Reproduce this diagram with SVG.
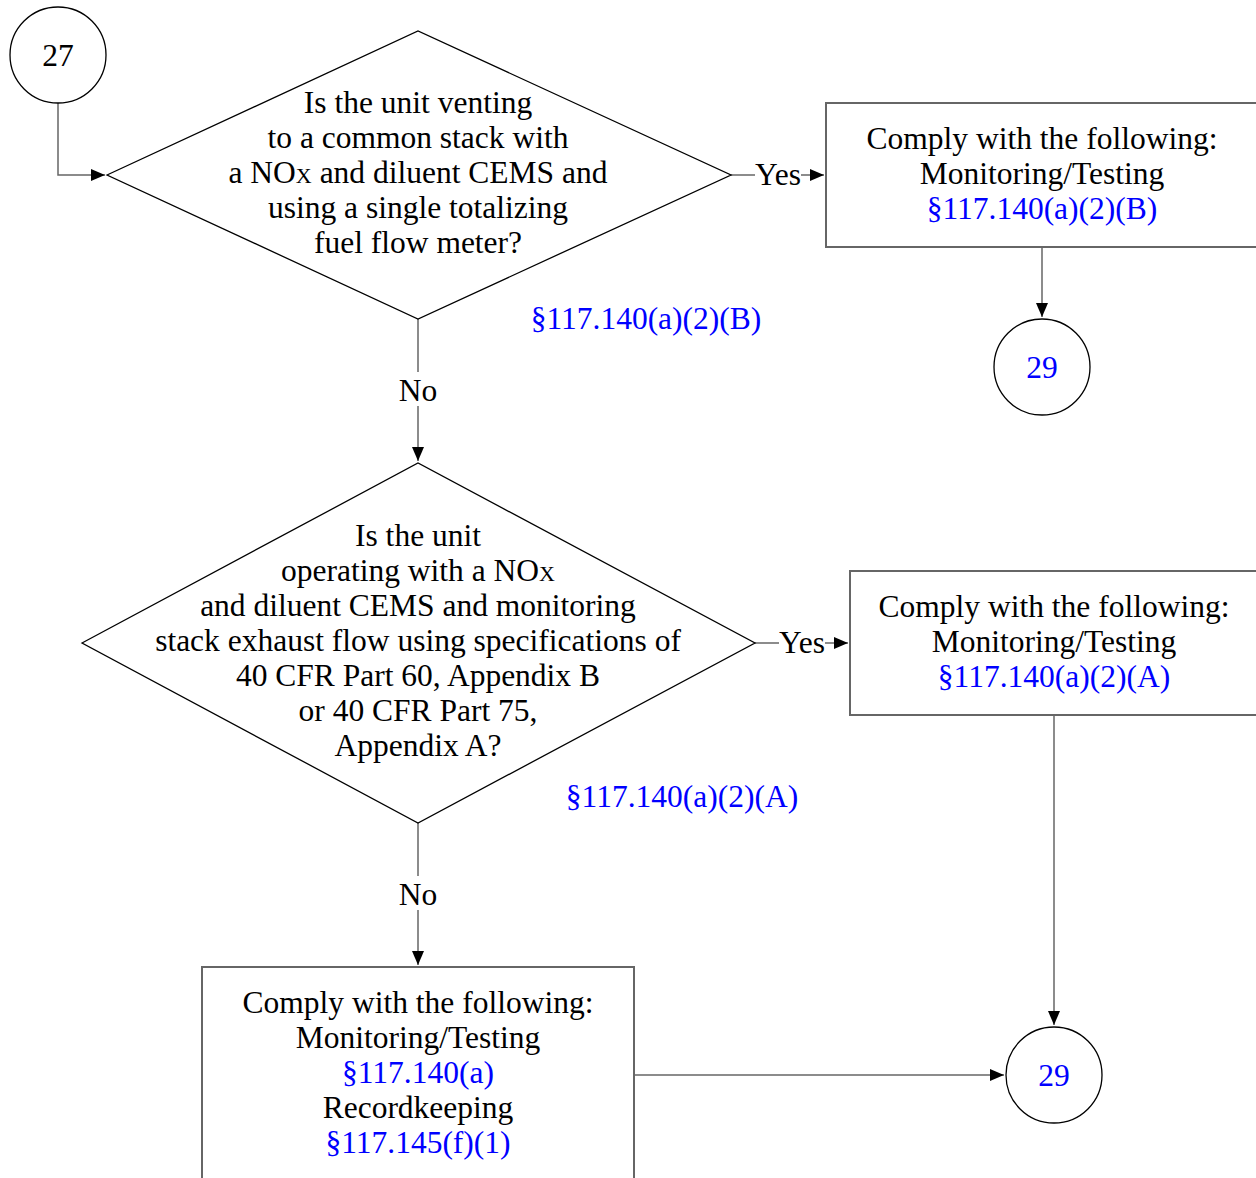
<svg xmlns="http://www.w3.org/2000/svg" width="1256" height="1178" viewBox="0 0 1256 1178">
<defs>
<marker id="arr" markerWidth="14" markerHeight="12" refX="14" refY="6" orient="auto" markerUnits="userSpaceOnUse">
<path d="M0,0 L14,6 L0,12 Z" fill="#000"/>
</marker>
<style>
text{font-family:"Liberation Serif","DejaVu Serif",serif;font-size:31.5px;text-anchor:middle;fill:#000}
.ref{fill:#0000ff}
.shape{fill:#fff;stroke:#000;stroke-width:1.3}
.box{fill:#fff;stroke:#666;stroke-width:2}
.conn{fill:none;stroke:#666;stroke-width:1.5}
.sub{font-size:22px}
.lbl{fill:#fff;stroke:none}
</style>
</defs>
<rect width="1256" height="1178" fill="#fff"/>
<g id="connectors">
<path class="conn" d="M58,103 V175 H105" marker-end="url(#arr)"/>
<path class="conn" d="M731,175 H824" marker-end="url(#arr)"/>
<rect class="lbl" x="755" y="160" width="46" height="30"/>
<text x="778" y="185">Yes</text>
<path class="conn" d="M1042,247 V317" marker-end="url(#arr)"/>
<path class="conn" d="M418,319 V461" marker-end="url(#arr)"/>
<rect class="lbl" x="398" y="372" width="40" height="34"/>
<text x="418" y="401">No</text>
<path class="conn" d="M755,643 H848" marker-end="url(#arr)"/>
<rect class="lbl" x="779" y="628" width="46" height="30"/>
<text x="802" y="653">Yes</text>
<path class="conn" d="M1054,715 V1025" marker-end="url(#arr)"/>
<path class="conn" d="M418,823 V965" marker-end="url(#arr)"/>
<rect class="lbl" x="398" y="876" width="40" height="34"/>
<text x="418" y="905">No</text>
<path class="conn" d="M634,1075 H1004" marker-end="url(#arr)"/>
</g>
<g id="c27">
<circle class="shape" cx="58" cy="55" r="48"/>
<text x="58" y="66">27</text>
</g>
<g id="d1">
<polygon class="shape" points="107,175 418,31 731,175 418,319"/>
<text x="418" y="113">Is the unit venting</text>
<text x="418" y="148">to a common stack with</text>
<text x="418" y="183">a NO<tspan class="sub">X</tspan> and diluent CEMS and</text>
<text x="418" y="218">using a single totalizing</text>
<text x="418" y="253">fuel flow meter?</text>
<text class="ref" x="646" y="329">§117.140(a)(2)(B)</text>
</g>
<g id="b1">
<rect class="box" x="826" y="103" width="440" height="144"/>
<text x="1042" y="149">Comply with the following:</text>
<text x="1042" y="184">Monitoring/Testing</text>
<text class="ref" x="1042" y="219">§117.140(a)(2)(B)</text>
</g>
<g id="c29a">
<circle class="shape" cx="1042" cy="367" r="48"/>
<text class="ref" x="1042" y="378">29</text>
</g>
<g id="d2">
<polygon class="shape" points="82,643 418,463 755,643 418,823"/>
<text x="418" y="546">Is the unit</text>
<text x="418" y="581">operating with a NO<tspan class="sub">X</tspan></text>
<text x="418" y="616">and diluent CEMS and monitoring</text>
<text x="418" y="651">stack exhaust flow using specifications of</text>
<text x="418" y="686">40 CFR Part 60, Appendix B</text>
<text x="418" y="721">or 40 CFR Part 75,</text>
<text x="418" y="756">Appendix A?</text>
<text class="ref" x="682" y="807">§117.140(a)(2)(A)</text>
</g>
<g id="b2">
<rect class="box" x="850" y="571" width="420" height="144"/>
<text x="1054" y="617">Comply with the following:</text>
<text x="1054" y="652">Monitoring/Testing</text>
<text class="ref" x="1054" y="687">§117.140(a)(2)(A)</text>
</g>
<g id="b3">
<rect class="box" x="202" y="967" width="432" height="240"/>
<text x="418" y="1013">Comply with the following:</text>
<text x="418" y="1048">Monitoring/Testing</text>
<text class="ref" x="418" y="1083">§117.140(a)</text>
<text x="418" y="1118">Recordkeeping</text>
<text class="ref" x="418" y="1153">§117.145(f)(1)</text>
</g>
<g id="c29b">
<circle class="shape" cx="1054" cy="1075" r="48"/>
<text class="ref" x="1054" y="1086">29</text>
</g>
</svg>
